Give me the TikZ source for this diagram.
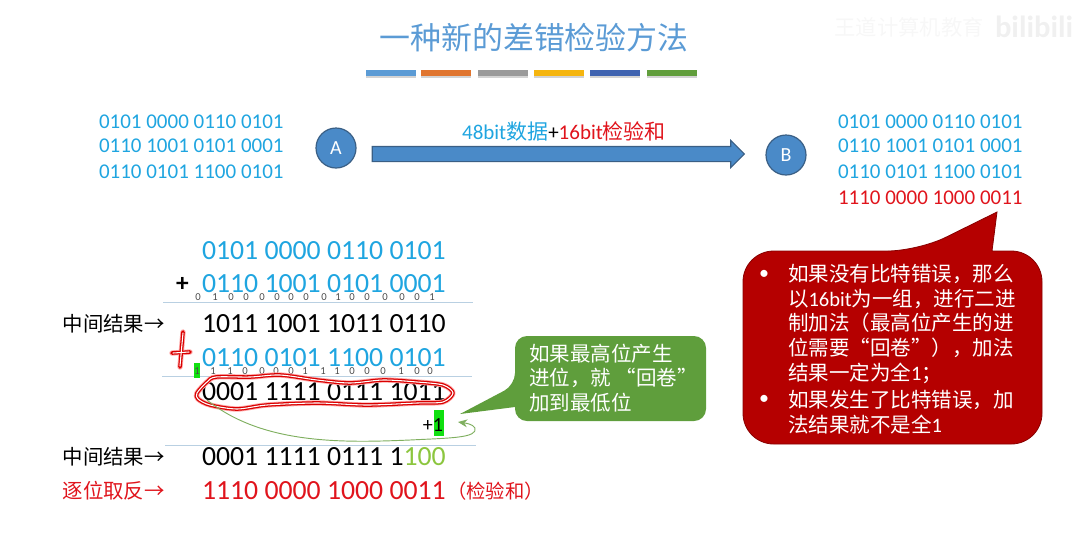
\documentclass[tikz,border=0pt]{standalone}
\usepackage{xcolor}
\usepackage{fontspec}
\setmainfont{Carlito}
\newfontfamily\cjk{Noto Sans CJK SC}
\usepackage{tikz}
\usetikzlibrary{positioning,arrows.meta,shapes.arrows,shadows}

\definecolor{titleblue}{HTML}{5B9BD5}
\definecolor{shapeblue}{HTML}{4A8AC8}
\definecolor{databit}{HTML}{1FA5E0}
\definecolor{circleedge}{HTML}{3A5F85}
\definecolor{errred}{HTML}{E0141C}
\definecolor{bubblered}{HTML}{B50000}
\definecolor{bubblegreen}{HTML}{5F9E3C}
\definecolor{rulecol}{HTML}{B9D0E2}
\definecolor{hilite}{HTML}{10E010}
\definecolor{curvegreen}{HTML}{7FAF5F}
\definecolor{lastbits}{HTML}{8CC63F}

\begin{document}
\begin{tikzpicture}[
  x=0.75pt, y=-0.75pt,
  txt/.style={inner sep=0pt, outer sep=0pt},
  smalldata/.style={txt, anchor=west, font=\fontsize{15.75}{18}\selectfont, text=databit},
  bigrow/.style={txt, anchor=west, font=\fontsize{20.8}{24}\selectfont},
  carrybit/.style={txt, font=\fontsize{8}{9}\selectfont, text=black!70},
  cnlabel/.style={txt, font=\cjk\fontsize{15.3}{18}\selectfont},
  endpoint/.style={circle, draw=circleedge, line width=0.9pt, fill=shapeblue, text=white, minimum size=30pt, inner sep=0pt, font=\fontsize{15}{16}\selectfont},
  colorbar/.style={rectangle, minimum width=37.5pt, minimum height=4.5pt, inner sep=0pt, drop shadow={shadow xshift=0pt, shadow yshift=-1.2pt, opacity=0.35}},
  sumrule/.style={rulecol, line width=0.7pt},
  penglow/.style={red!35, line width=4pt, line cap=round, line join=round},
  penred/.style={red!85!black, line width=2.7pt, line cap=round, line join=round},
  pencore/.style={white, line width=0.8pt, line cap=round, line join=round},
  bubbletext/.style={txt, anchor=west, align=left, text=white, font=\cjk\fontsize{15.4}{18.6}\selectfont}
]
\useasboundingbox (0,0) rectangle (1073,551);

% Title and colour bars
\node[txt, font=\cjk\fontsize{23.2}{28}\selectfont, text=titleblue] (title) at (534,38) {一种新的差错检验方法};
\foreach \bx/\bcol [count=\i] in {391/5B9BD5, 446/E0752F, 503/9A9A9A, 559/F5B50F, 615/3F63B0, 672/619E3C} {
  \definecolor{barcol}{HTML}{\bcol}
  \node[colorbar, fill=barcol] (bar\i) at (\bx,73) {};
}
\node[txt, font=\cjk\fontsize{16}{20}\selectfont, text=black!3] (mark) at (909,27) {王道计算机教育};
\node[txt, anchor=west, font=\bfseries\fontsize{23}{26}\selectfont, text=black!6] (marklogo) at (995,27) {bilibili};

% Sender and receiver
\node[endpoint] (hostA) at (336,148) {A};
\node[endpoint] (hostB) at (786,155) {B};
\node[single arrow, draw=circleedge, fill=shapeblue, line width=0.8pt, text height=10.5pt, text depth=0pt, minimum height=279pt, single arrow head extend=4.5pt, single arrow head indent=0pt, inner sep=0pt] (sendarrow) at (554.5,154) {};
\node[txt, font=\fontsize{15.75}{18}\selectfont, text=databit] (sendlabel) at (564,131) {48bit{\cjk 数据}\textcolor{black}{+}\textcolor{errred}{16bit{\cjk 检验和}}};

% Data on both sides
\node[smalldata] (senddata1) at (99,122) {0101 0000 0110 0101};
\node[smalldata] (senddata2) at (99,146) {0110 1001 0101 0001};
\node[smalldata] (senddata3) at (99,172) {0110 0101 1100 0101};
\node[smalldata] (recvdata1) at (838,122) {0101 0000 0110 0101};
\node[smalldata] (recvdata2) at (838,146) {0110 1001 0101 0001};
\node[smalldata] (recvdata3) at (838,172) {0110 0101 1100 0101};
\node[smalldata, text=errred] (recvdata4) at (838,198) {1110 0000 1000 0011};

% Addition rows
\node[bigrow, text=databit] (row1) at (202,251) {0101 0000 0110 0101};
\node[bigrow, text=databit] (row2) at (202,284) {0110 1001 0101 0001};
\node[bigrow] (row3) at (202,324) {1011 1001 1011 0110};
\node[bigrow, text=databit] (row4) at (202,358) {0110 0101 1100 0101};
\node[bigrow] (row5) at (202,392) {0001 1111 0111 1011};
\node[bigrow] (row6) at (202,457) {0001 1111 0111 1\textcolor{lastbits}{100}};
\node[bigrow, text=errred] (row7) at (202,491) {1110 0000 1000 0011};
\node[txt, font=\cjk\fontsize{14.5}{16}\selectfont, text=errred, right=1pt of row7] (cksum) {（检验和）};
\node[txt, font=\bfseries\fontsize{19}{20}\selectfont, left=10pt of row2] (plus) {+};

\coordinate (rule1a) at (163,302);
\coordinate (rule1b) at (473,302);
\coordinate (rule2a) at (162,376);
\coordinate (rule2b) at (472,376);
\coordinate (rule3a) at (165,445);
\coordinate (rule3b) at (476,445);
\draw[sumrule] (rule1a) -- (rule1b);
\draw[sumrule] (rule2a) -- (rule2b);
\draw[sumrule] (rule3a) -- (rule3b);

% Carries
\fill[hilite] (194,363) rectangle (200,378);
\fill[hilite] (434,410) rectangle (444,436);
\foreach \cx/\cd in {198/0,215/1,231/0,246/0,262/0,277/0,291/0,306/0,324/0,338/1,352/0,367/0,385/0,402/0,417/0,432/1}
  \node[carrybit] at (\cx,297) {\cd};
\foreach \cx/\cd in {197/1,213/1,230/1,245/0,262/0,276/0,291/0,305/1,323/1,337/1,352/0,367/0,383/0,401/1,417/0,430/0}
  \node[carrybit] at (\cx,371) {\cd};

\node[txt, font=\fontsize{15}{18}\selectfont] (plusone) at (433,425) {+1};

% Left labels
\node[cnlabel, left=28pt of row3] (midlabel1) {中间结果→};
\node[cnlabel, left=28pt of row6] (midlabel2) {中间结果→};
\node[cnlabel, text=errred, left=28pt of row7] (invlabel) {逐位取反→};

% Pen marks
\def\penloop{(197,393) (207,382) (216,377) (250,377) (280,375) (317,380) (350,383) (383,380) (417,382) (443,385) (453,393) (443,402) (417,403) (367,405) (317,403) (267,405) (237,409) (210,405) (198,399)}
\draw[penglow, smooth cycle] plot coordinates {\penloop};
\draw[penred, smooth cycle] plot coordinates {\penloop};
\draw[pencore, smooth cycle] plot coordinates {\penloop};
\draw[penglow] (183,332) -- (180,367);
\draw[penglow] (172,353) -- (190,352);
\draw[penred] (183,332) -- (180,367);
\draw[penred] (172,353) -- (190,352);
\draw[pencore] (183,333) -- (180,366);
\draw[pencore] (173,353) -- (189,352);

% Wrap-around carry
\coordinate (wrapstart) at (207,400);
\coordinate (wrapend) at (458,422);
\draw[curvegreen, line width=0.7pt, -{Stealth[length=7pt,width=6pt]}] (wrapstart) .. controls (262,444) and (340,443) .. (410,440) .. controls (450,438) and (478,438) .. (475,428) .. controls (473,424) and (465,423) .. (wrapend);

% Green note
\fill[bubblegreen] (515,385) -- (460,414) -- (515,407) [rounded corners=9pt] -- (515,421) -- (706,421) -- (706,336) -- (515,336) -- cycle;
\node[bubbletext] (greennote) at (529,378) {如果最高位产生\\进位，就 “回卷”\\加到最低位};

% Red note
\draw[draw=bubblered!75!black, line width=0.6pt, fill=bubblered] (918,251) -- (997,212) -- (992,251) [rounded corners=23pt] -- (1042,251) -- (1042,444) -- (743,444) -- (743,251) -- cycle;
\node[txt, text=white, font=\fontsize{15}{18}\selectfont] (bullet1) at (764,275) {•};
\node[txt, text=white, font=\fontsize{15}{18}\selectfont] (bullet2) at (764,400) {•};
\node[bubbletext] (rednote1) at (788,324) {如果没有比特错误，那么\\以{\fontspec{Carlito}16bit}为一组，进行二进\\制加法（最高位产生的进\\位需要“回卷”），加法\\结果一定为全{\fontspec{Carlito}1}；};
\node[bubbletext] (rednote2) at (788,412) {如果发生了比特错误，加\\法结果就不是全{\fontspec{Carlito}1}};
\end{tikzpicture}
\end{document}
